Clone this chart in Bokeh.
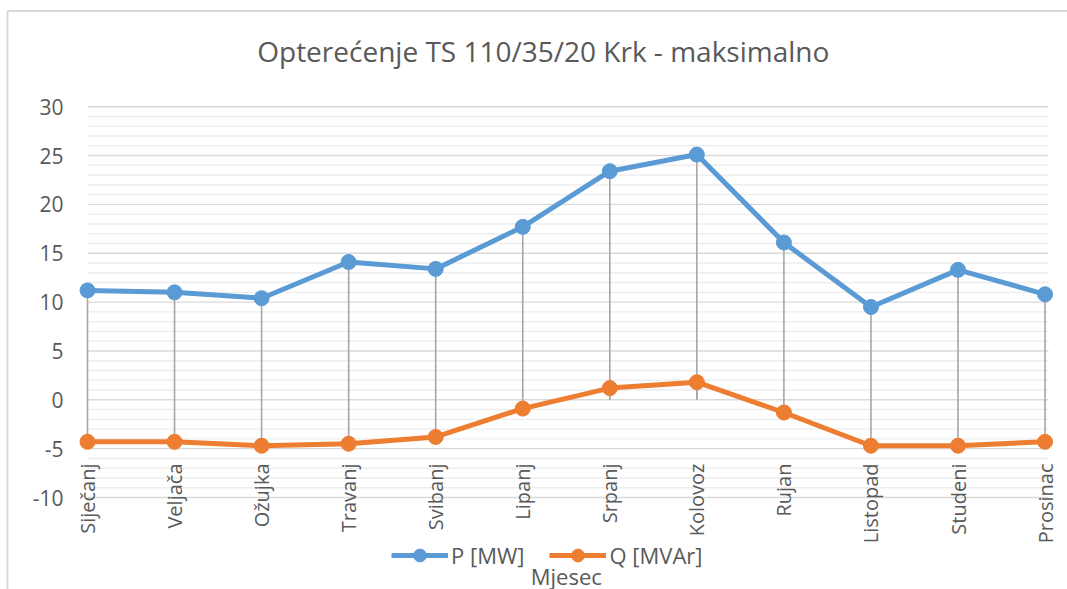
import math
from bokeh.plotting import figure
from bokeh.models import Range1d, Legend, LegendItem, ColumnDataSource
from bokeh.core.properties import value
from bokeh.embed import file_html
from bokeh.resources import INLINE

# ---------------- data ----------------
months = ["Siječanj", "Veljača", "Ožujka", "Travanj", "Svibanj", "Lipanj",
          "Srpanj", "Kolovoz", "Rujan", "Listopad", "Studeni", "Prosinac"]
p_mw = [11.2, 11.0, 10.4, 14.1, 13.4, 17.7, 23.4, 25.1, 16.1, 9.5, 13.3, 10.8]
q_mvar = [-4.3, -4.3, -4.7, -4.5, -3.8, -0.9, 1.2, 1.8, -1.3, -4.7, -4.7, -4.3]
y_ticks_min, y_ticks_max, y_step = -10, 30, 5
title_text = "Opterećenje TS 110/35/20 Krk - maksimalno"
x_title = "Mjesec"
series_names = ["P [MW]", "Q [MVAr]"]

# ---------------- style / geometry ----------------
FONT = "Open Sans"
TXT = "#595959"
BLUE = "#5b9bd5"
ORANGE = "#ed7d31"
W, H = 1067, 589
PX_X = 87.05      # pixels per category
PX_Y = 9.77       # pixels per unit
LEFT_PX = 87      # first category position in canvas pixels
ZERO_PX = 399.3   # value 0 in canvas pixels (from top)

x0 = -LEFT_PX / PX_X
y1 = ZERO_PX / PX_Y
x_rng = Range1d(x0, x0 + W / PX_X)
y_rng = Range1d(y1 - H / PX_Y, y1)

n = len(months)
idx = list(range(n))
src = ColumnDataSource(dict(x=idx, p=p_mw, q=q_mvar, zero=[0] * n, lab=months))

p = figure(width=W, height=H, output_backend="svg", toolbar_location=None,
           x_range=x_rng, y_range=y_rng, min_border=0,
           background_fill_color="white", border_fill_color="white")
p.outline_line_color = None
p.axis.visible = False
p.grid.visible = False

# chart-area frame (left and top edges visible)
bx = x0 + 7 / PX_X
by = y1 - 10.5 / PX_Y
p.segment(x0=[bx, bx], y0=[by, by], x1=[bx, x_rng.end], y1=[y_rng.start, by],
          line_color="#d9d9d9", line_width=2)

# gridlines
grid_right = (n - 1) + 0.04
minor_vals = [v for v in range(y_ticks_min, y_ticks_max + 1) if v % y_step]
major_vals = list(range(y_ticks_min, y_ticks_max + 1, y_step))
p.segment(x0=[0] * len(minor_vals), y0=minor_vals, x1=[grid_right] * len(minor_vals),
          y1=minor_vals, line_color="#ededed", line_width=1.4)
p.segment(x0=[0] * len(major_vals), y0=major_vals, x1=[grid_right] * len(major_vals),
          y1=major_vals, line_color="#d9d9d9", line_width=1.4)

# y tick labels
p.text(x=[0] * len(major_vals), y=major_vals, text=[str(v) for v in major_vals],
       x_offset=-24, text_align="right", text_baseline="middle",
       text_font=value(FONT), text_font_size="21px", text_color=TXT)

# drop lines to the category axis (at 0)
p.segment(x0="x", y0="p", x1="x", y1="zero", source=src, line_color="#a6a6a6", line_width=1.6)
p.segment(x0="x", y0="q", x1="x", y1="zero", source=src, line_color="#a6a6a6", line_width=1.6)

lp = p.line("x", "p", source=src, line_color=BLUE, line_width=5)
cp = p.scatter("x", "p", source=src, marker="circle", size=15, fill_color=BLUE, line_color=BLUE)
lq = p.line("x", "q", source=src, line_color=ORANGE, line_width=5)
cq = p.scatter("x", "q", source=src, marker="circle", size=15, fill_color=ORANGE, line_color=ORANGE)

# category labels (rotated, overlapping lower gridlines as in the original)
p.text(x="x", y=y_ticks_min, text="lab", source=src, angle=math.pi / 2,
       y_offset=-34, text_align="right", text_baseline="middle",
       text_font=value(FONT), text_font_size="20px", text_color=TXT)

# axis title
p.text(x=[(n - 1) / 2], y=[y_ticks_min], text=[x_title], y_offset=78,
       text_align="center", text_baseline="middle",
       text_font=value(FONT), text_font_size="22px", text_color=TXT)

# chart title
p.text(x=[(n - 1) / 2], y=[y_ticks_max], text=[title_text], x_offset=-23, y_offset=-56,
       text_align="center", text_baseline="middle",
       text_font=value(FONT), text_font_size="28px", text_color=TXT)

legend = Legend(items=[LegendItem(label=series_names[0], renderers=[lp, cp]),
                       LegendItem(label=series_names[1], renderers=[lq, cq])],
                location=(391, 18), orientation="horizontal",
                glyph_width=57, glyph_height=32, label_standoff=3, spacing=25,
                padding=0, margin=0, border_line_color=None,
                background_fill_alpha=0, label_text_font=FONT,
                label_text_font_size="22px", label_text_color=TXT)
p.add_layout(legend, "center")

open("out.html", "w").write(file_html(p, INLINE))
